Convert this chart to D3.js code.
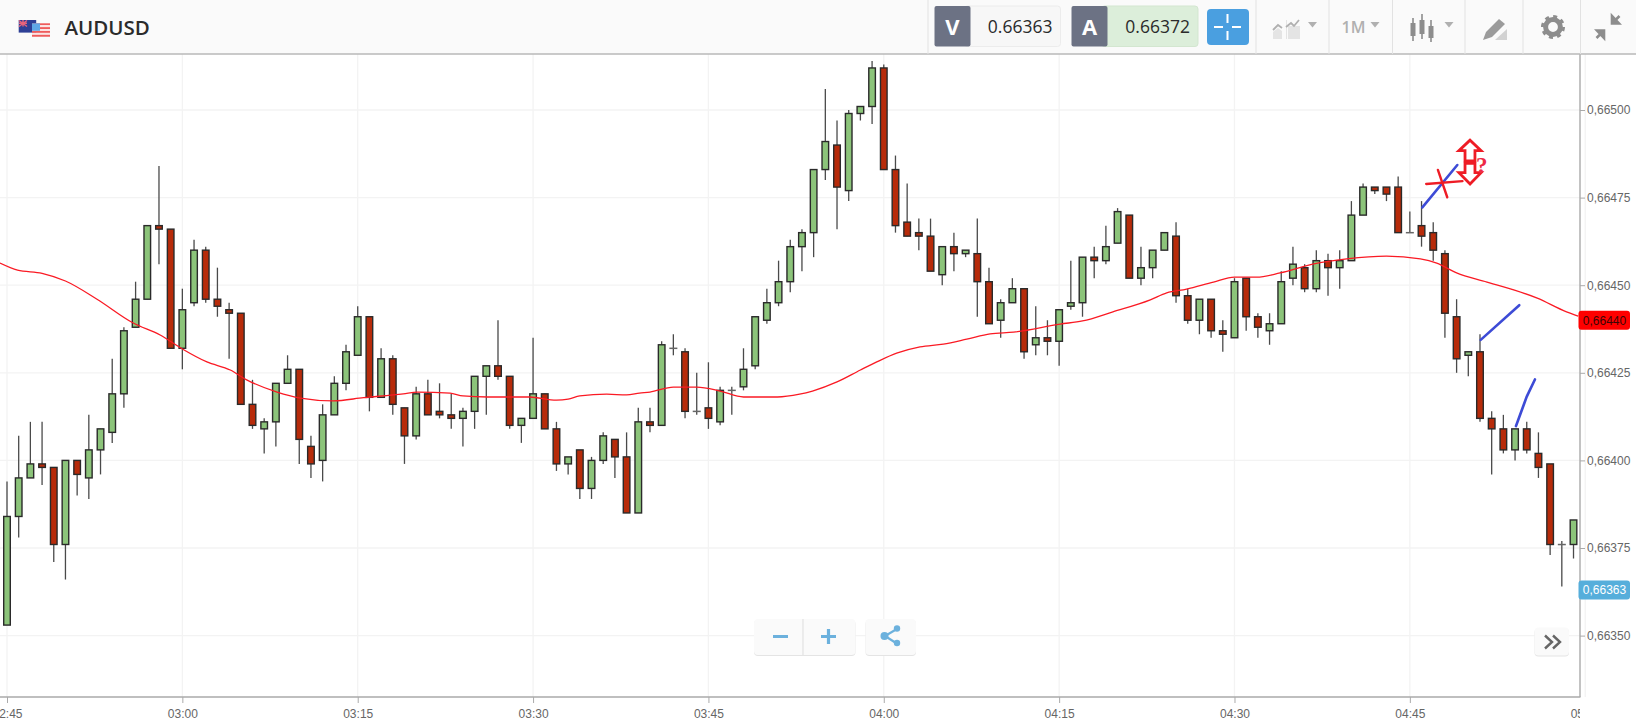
<!DOCTYPE html>
<html>
<head>
<meta charset="utf-8">
<script src="https://d3js.org/d3.v7.min.js"></script>
<style>
  html, body { margin: 0; padding: 0; background: #fff; overflow: hidden; }
  svg { display: block; }
  .axis text { font-family: "Liberation Sans", sans-serif; font-size: 12px; fill: #666; }
  .axis path, .axis line { stroke: #aaa; }
</style>
</head>
<body>
<svg width="1636" height="728"></svg>
<script>
// prices are in units of 0.00001, one minute candles from 02:45
var opens = [66353,66384,66395,66399,66398,66376,66400,66395,66403,66408,66419,66438,66446,66467,66466,
  66432,66445,66460,66446,66443,66442,66416,66409,66411,66422,66426,66404,66400,66413,66422,
  66430,66441,66418,66429,66415,66407,66419,66414,66413,66412,66414,66424,66427,66424,66410,
  66412,66419,66409,66399,66403,66392,66400,66406,66401,66385,66411,66410,66432,66431,66414,
  66415,66411,66420,66421,66427,66440,66445,66451,66461,66465,66483,66490,66477,66499,66501,
  66512,66483,66468,66465,66464,66453,66461,66459,66459,66451,66440,66445,66449,66433,66435,
  66434,66444,66445,66458,66457,66462,66470,66452,66455,66460,66464,66447,66440,66446,66437,
  66435,66452,66441,66437,66439,66452,66455,66449,66457,66455,66457,66470,66478,66478,66478,
  66465,66467,66465,66459,66441,66430,66431,66412,66409,66403,66409,66402,66399,66376,66376];
var highs = [66394,66407,66411,66411,66398,66400,66400,66413,66409,66429,66438,66451,66467,66484,66466,
  66449,66463,66461,66455,66445,66442,66423,66412,66422,66430,66426,66407,66416,66424,66433,
  66444,66441,66432,66430,66415,66421,66423,66422,66419,66415,66424,66427,66440,66424,66412,
  66435,66419,66411,66401,66403,66401,66408,66406,66408,66415,66415,66434,66436,66432,66425,
  66428,66421,66421,66432,66441,66449,66457,66463,66466,66483,66506,66497,66500,66501,66514,
  66513,66487,66479,66469,66469,66461,66465,66460,66469,66455,66446,66452,66449,66444,66440,
  66443,66457,66458,66461,66467,66472,66470,66461,66460,66465,66468,66449,66446,66446,66440,
  66452,66452,66442,66442,66454,66461,66456,66460,66459,66460,66474,66479,66478,66478,66481,
  66471,66474,66468,66460,66446,66431,66436,66414,66413,66409,66411,66408,66399,66377,66383];
var lows = [66353,66378,66395,66393,66371,66366,66390,66389,66396,66405,66415,66438,66446,66456,66432,
  66426,66444,66445,66441,66429,66416,66409,66402,66404,66422,66399,66395,66394,66413,66420,
  66430,66414,66418,66413,66399,66406,66413,66412,66409,66404,66409,66413,66423,66409,66405,
  66412,66409,66397,66396,66389,66389,66399,66395,66385,66385,66408,66410,66430,66412,66413,
  66409,66410,66413,66420,66426,66439,66444,66448,66454,66458,66480,66466,66474,66497,66496,
  66483,66465,66464,66460,66454,66450,66454,66458,66441,66439,66435,66445,66429,66430,66430,
  66427,66443,66441,66452,66456,66462,66452,66450,66452,66460,66445,66439,66436,66435,66431,
  66435,66437,66435,66433,66439,66450,66448,66448,66447,66449,66457,66470,66476,66474,66465,
  66465,66461,66457,66435,66425,66424,66411,66396,66402,66400,66402,66395,66373,66364,66372];
var closes = [66384,66395,66399,66398,66376,66400,66396,66403,66409,66419,66437,66446,66467,66466,66432,
  66443,66460,66446,66444,66442,66416,66410,66411,66422,66426,66406,66399,66413,66422,66431,
  66441,66418,66429,66416,66407,66419,66413,66413,66412,66414,66424,66427,66424,66410,66412,
  66419,66409,66399,66401,66392,66400,66407,66401,66385,66411,66410,66433,66432,66414,66414,
  66412,66420,66420,66426,66441,66445,66451,66461,66465,66483,66491,66478,66499,66501,66512,
  66483,66467,66464,66464,66454,66461,66459,66460,66451,66439,66445,66449,66431,66435,66434,
  66443,66445,66458,66457,66461,66471,66452,66455,66460,66465,66447,66440,66446,66437,66436,
  66451,66441,66438,66439,66451,66456,66449,66457,66455,66457,66470,66478,66477,66476,66465,
  66465,66464,66460,66442,66429,66431,66412,66409,66403,66409,66403,66398,66376,66376,66383];

// moving average, read at these candle positions
var emaPos = [-0.6,0.9,3,5,7.7,10.8,13.1,15,17.1,19.1,20.5,23.1,25.1,27.9,30.5,33.9,35.1,37.9,39,41.1,44.7,47,48,49,51.3,53,54.1,55,57,59,61,63,65.9,67.8,68.9,71,73,74.4,76.1,78.1,80.1,82.1,84.1,86.1,90.1,92,94.6,97.8,99.2,100.9,103.2,105,106.9,108.9,111.7,114.6,118,120.9,122.3,124,126.6,130.9,133.4,134.4];
var emaVal = [66456.3,66454.3,66453.4,66451.2,66446,66439.2,66435.8,66431.8,66428.1,66425.8,66423,66419.5,66417.8,66417,66417.9,66419,66419.5,66419.2,66418.4,66418.1,66418.1,66417.2,66417.5,66418.4,66418.9,66418.7,66419.2,66419.5,66420.9,66420.9,66419.8,66418.1,66418.1,66418.9,66419.8,66422.4,66425.8,66428.1,66430.6,66432.4,66433.2,66434.6,66436.1,66436.6,66438.9,66439.8,66442.4,66445.8,66447.8,66448.9,66450.9,66452.3,66452.3,66453.5,66456,66457.5,66458.3,66457.5,66456.3,66453.5,66450.9,66446.3,66442.4,66441.2];

var priceTicks = [66350,66375,66400,66425,66450,66475,66500];
var timePos = [0,15,30,45,60,75,90,105,120,135];
var timeLabels = ["02:45","03:00","03:15","03:30","03:45","04:00","04:15","04:30","04:45","05:00"];
var symbol = "AUDUSD", bid = "0.66363", ask = "0.66372", emaLast = 66440, bidLast = 66363;

// hand drawn marks on top of the chart, [candle position, price]
var blueStrokes = [
  [[121.07,66472.2],[124.06,66484.3]],
  [[126.06,66434.4],[129.36,66444.3]],
  [[129.08,66409.8],[130,66418.2],[130.7,66423.1]]];
var redStrokes = [
  [[121.4,66478.9],[124.5,66479.7]],
  [[122.4,66482.9],[123.2,66475.1]]];
var arrowUp = [[125.15,66491.4],[124.2,66488.4],[124.72,66488.4],[124.72,66485.5],[125.57,66485.5],[125.57,66488.4],[126.09,66488.4]];
var arrowDown = [[125.15,66478.9],[124.2,66482.1],[124.72,66482.1],[124.72,66484.8],[125.57,66484.8],[125.57,66482.1],[126.09,66482.1]];

var svg = d3.select("svg"),
    width = +svg.attr("width"),
    height = +svg.attr("height");

var axisX = 1580, top0 = 54, axisY = 697;

var x = d3.scaleLinear().domain([0, 135]).range([7, 1585.2]);
var y = d3.scaleLinear().domain([66350, 66500]).range([635.6, 110]);

var defs = svg.append("defs");
defs.append("clipPath").attr("id", "plot").append("rect")
    .attr("x", 0).attr("y", top0).attr("width", axisX).attr("height", axisY - top0);
defs.append("clipPath").attr("id", "bottom").append("rect")
    .attr("x", 0).attr("y", axisY - 1).attr("width", axisX).attr("height", height - axisY + 1);

// grid
var grid = svg.append("g").attr("stroke", "#f3f3f3").attr("stroke-width", 1.3);
grid.selectAll(".gy").data(priceTicks).enter().append("line")
    .attr("x1", 0).attr("x2", axisX)
    .attr("y1", function(d) { return y(d); }).attr("y2", function(d) { return y(d); });
grid.selectAll(".gx").data(timePos).enter().append("line")
    .attr("y1", top0).attr("y2", axisY)
    .attr("x1", function(d) { return x(d); }).attr("x2", function(d) { return x(d); });

var plot = svg.append("g").attr("clip-path", "url(#plot)");

var candles = d3.range(opens.length);

plot.append("g").attr("stroke", "#4a4a4a").attr("stroke-width", 1.3)
  .selectAll("line").data(candles).enter().append("line")
    .attr("x1", function(i) { return x(i); })
    .attr("x2", function(i) { return x(i); })
    .attr("y1", function(i) { return y(highs[i]); })
    .attr("y2", function(i) { return y(lows[i]); });

plot.append("g").attr("stroke-width", 1.4)
  .selectAll("rect").data(candles).enter().append("rect")
    .attr("x", function(i) { return x(i) - 3.3; })
    .attr("width", 6.6)
    .attr("y", function(i) { return y(Math.max(opens[i], closes[i])); })
    .attr("height", function(i) { return Math.max(0.1, Math.abs(y(opens[i]) - y(closes[i]))); })
    .attr("fill", function(i) { return closes[i] >= opens[i] ? "#8cc47a" : "#b72b0a"; })
    .attr("stroke", function(i) { return closes[i] == opens[i] ? "#666" : "#2a2a2a"; });

var emaLine = d3.line()
    .x(function(d) { return x(d[0]); })
    .y(function(d) { return y(d[1]); })
    .curve(d3.curveMonotoneX);

plot.append("path")
    .attr("d", emaLine(emaPos.map(function(p, i) { return [p, emaVal[i]]; })))
    .attr("fill", "none").attr("stroke", "#fa1a24").attr("stroke-width", 1.3);

// axes
var fmtPrice = function(d) { return d3.format(".5f")(d / 100000).replace(".", ","); };

var yAxis = svg.append("g").attr("class", "axis")
    .attr("transform", "translate(" + axisX + ",0)")
    .call(d3.axisRight(y).tickValues(priceTicks).tickSize(5).tickPadding(2).tickFormat(fmtPrice));
yAxis.select(".domain").remove();

var xAxis = svg.append("g").attr("clip-path", "url(#bottom)").append("g").attr("class", "axis")
    .attr("transform", "translate(0," + axisY + ")")
    .call(d3.axisBottom(x).tickValues(timePos).tickSize(6).tickPadding(6)
      .tickFormat(function(d, i) { return timeLabels[i]; }));
xAxis.select(".domain").remove();

svg.append("line").attr("x1", 0).attr("x2", axisX + 0.5).attr("y1", axisY).attr("y2", axisY)
    .attr("stroke", "#aaa").attr("stroke-width", 1.4);
svg.append("line").attr("x1", axisX).attr("x2", axisX).attr("y1", top0).attr("y2", axisY)
    .attr("stroke", "#aaa").attr("stroke-width", 1.4);

// price tags
function priceTag(v, bg, fg) {
  svg.append("rect").attr("x", 1578.5).attr("y", y(v) - 9.5).attr("width", 51.5).attr("height", 19)
      .attr("rx", 3).attr("fill", bg);
  svg.append("text").attr("x", 1604.5).attr("y", y(v) + 4.3).attr("text-anchor", "middle")
      .attr("font-family", "Liberation Sans, sans-serif").attr("font-size", 12)
      .attr("fill", fg).text(fmtPrice(v));
}
priceTag(emaLast, "#ff0000", "#3a0606");
priceTag(bidLast, "#56aedb", "#ffffff");

// hand drawn marks
var pen = d3.line().x(function(d) { return x(d[0]); }).y(function(d) { return y(d[1]); });
var marks = svg.append("g").attr("fill", "none").attr("stroke-linecap", "round");
marks.selectAll(".blue").data(blueStrokes).enter().append("path")
    .attr("d", pen).attr("stroke", "#3d4bd6").attr("stroke-width", 2.6);
marks.selectAll(".red").data(redStrokes).enter().append("path")
    .attr("d", pen).attr("stroke", "#ee1c25").attr("stroke-width", 2.4);
marks.selectAll(".arrow").data([arrowUp, arrowDown]).enter().append("path")
    .attr("d", function(d) { return pen(d) + "Z"; })
    .attr("stroke", "#ee1c25").attr("stroke-width", 2.8).attr("stroke-linejoin", "miter");
svg.append("text").attr("x", x(126.15)).attr("y", y(66482)).attr("text-anchor", "middle")
    .attr("font-family", "Liberation Serif, serif").attr("font-weight", "bold").attr("font-size", 23)
    .attr("fill", "#ee2a45").text("?");

// zoom + share buttons
var btn = svg.append("g");
function box(xp, yp, w, h) {
  btn.append("rect").attr("x", xp).attr("y", yp + 1).attr("width", w).attr("height", h)
      .attr("rx", 4).attr("fill", "#e4e4e4");
  return btn.append("rect").attr("x", xp).attr("y", yp).attr("width", w).attr("height", h)
      .attr("rx", 4).attr("fill", "#fafafa");
}
box(754, 619, 101.5, 36);
btn.append("line").attr("x1", 803).attr("x2", 803).attr("y1", 619).attr("y2", 655).attr("stroke", "#ddd");
btn.append("path").attr("d", "M773 636.5h15M821 636.5h15M828.5 629v15")
    .attr("stroke", "#6cb1dd").attr("stroke-width", 3.2).attr("fill", "none");
box(865.5, 619, 50.5, 36);
btn.append("path").attr("d", "M896 629.5L885 636L896 643").attr("stroke", "#6cb1dd").attr("stroke-width", 2.2).attr("fill", "none");
btn.selectAll(".dot").data([[897,628.5,3.2],[884.5,636,4],[897,643,3.2]]).enter().append("circle")
    .attr("cx", function(d) { return d[0]; }).attr("cy", function(d) { return d[1]; })
    .attr("r", function(d) { return d[2]; }).attr("fill", "#6cb1dd");
box(1534.5, 627.5, 34.5, 28);
btn.append("path").attr("d", "M1545 635.5l7 6.5l-7 6.5M1553 635.5l7 6.5l-7 6.5")
    .attr("stroke", "#666").attr("stroke-width", 2.4).attr("fill", "none");

// header
var head = svg.append("g");
head.append("rect").attr("width", width).attr("height", top0).attr("fill", "#fafafa");
head.append("line").attr("x1", 0).attr("x2", width).attr("y1", top0).attr("y2", top0)
    .attr("stroke", "#b9b9b9").attr("stroke-width", 1.4);

// flags
head.append("rect").attr("x", 18.7).attr("y", 20).attr("width", 17.5).attr("height", 12.6).attr("fill", "#2e4096");
head.append("path").attr("d", "M19 20.5l8 6M27 20.5l-8 6M23 20v6.5M19 23.3h8").attr("stroke", "#e8637a").attr("stroke-width", 1.4);
var stripes = d3.range(7);
head.selectAll(".st").data(stripes).enter().append("rect")
    .attr("x", 32).attr("width", 18)
    .attr("y", function(d) { return 23.3 + d * 1.92; }).attr("height", 1.92)
    .attr("fill", function(d) { return d % 2 ? "#fbe3e3" : "#ee5b5b"; });
head.append("rect").attr("x", 32).attr("y", 23.3).attr("width", 8).attr("height", 7.5).attr("fill", "#5fa8e6");

head.append("text").attr("x", 64.5).attr("y", 35).attr("font-family", "Open Sans, sans-serif")
    .attr("font-weight", 600).attr("font-size", 20.5).attr("fill", "#2b2b2b").text(symbol);

// quote boxes
function quote(xs, letter, value, bg, border, xEnd) {
  head.append("rect").attr("x", xs + 30).attr("y", 6).attr("width", xEnd - xs - 30).attr("height", 40.5)
      .attr("rx", 3).attr("fill", bg).attr("stroke", border);
  head.append("rect").attr("x", xs).attr("y", 6).attr("width", 36).attr("height", 40.5)
      .attr("rx", 2).attr("fill", "#6c7284");
  head.append("text").attr("x", xs + 18).attr("y", 34.5).attr("text-anchor", "middle")
      .attr("font-family", "Open Sans, sans-serif").attr("font-weight", 700).attr("font-size", 22)
      .attr("fill", "#fff").text(letter);
  head.append("text").attr("x", xEnd - 8).attr("y", 33).attr("text-anchor", "end")
      .attr("font-family", "Open Sans, sans-serif").attr("font-size", 17.5)
      .attr("fill", "#2b2b2b").text(value);
}
quote(934.5, "V", bid, "#f7f7f7", "#ececec", 1060.5);
quote(1071.5, "A", ask, "#dceeda", "#d3e6d0", 1198);

// crosshair button
head.append("rect").attr("x", 1207).attr("y", 9).attr("width", 42).attr("height", 36).attr("rx", 4).attr("fill", "#4a9fe0");
head.append("path").attr("d", "M1214 27h9M1232 27h9M1227.5 14v9M1227.5 31v9").attr("stroke", "#fff").attr("stroke-width", 2);

// toolbar separators
head.selectAll(".sep").data([928, 1256, 1329, 1392.5, 1465, 1523, 1580.5]).enter().append("line")
    .attr("x1", function(d) { return d; }).attr("x2", function(d) { return d; })
    .attr("y1", 0).attr("y2", top0).attr("stroke", "#e2e2e2");

// toolbar icons
var iconGrey = "#b0b0b0";
head.append("path").attr("d", "M1273 39v-7l5-4l4 3v8zM1286 39V20h1v19zM1288 39V26h12v13z").attr("fill", "#e4e4e4");
head.append("path").attr("d", "M1273 30l5-5l4 3M1286 27l5-4l3 3l5-6").attr("fill", "none").attr("stroke", iconGrey).attr("stroke-width", 1.8);
head.selectAll(".caret").data([1312.5, 1375, 1449]).enter().append("path")
    .attr("d", function(d) { return "M" + (d - 4.5) + " 22h9l-4.5 5.5z"; }).attr("fill", iconGrey);
head.append("text").attr("x", 1353.5).attr("y", 33).attr("text-anchor", "middle")
    .attr("font-family", "Open Sans, sans-serif").attr("font-weight", 600).attr("font-size", 16)
    .attr("fill", iconGrey).text("1M");
head.append("path").attr("d", "M1413 18v23M1422 14v25M1431 20v22").attr("stroke", "#8d8d8d").attr("stroke-width", 1.6);
head.append("path").attr("d", "M1410.5 23h5v13h-5zM1419.5 20h5v14h-5zM1428.5 26h5v12h-5z").attr("fill", "#8d8d8d");
head.append("path").attr("d", "M1483 40l3-8l13-13l6 5l-13 13z").attr("fill", "#9b9b9b");
head.append("path").attr("d", "M1495 40l12-11v11z").attr("fill", "#d2d2d2");
head.append("circle").attr("cx", 1553).attr("cy", 27).attr("r", 7.4).attr("fill", "none").attr("stroke", "#8d8d8d").attr("stroke-width", 5);
head.append("circle").attr("cx", 1553).attr("cy", 27).attr("r", 10.6).attr("fill", "none").attr("stroke", "#8d8d8d").attr("stroke-width", 2.8).attr("stroke-dasharray", "4 4.3");
head.append("path").attr("d", "M1612 16v7.5h7zM1612 23.5l7.5-7.5M1604 38v-7.5h-7zM1604 30.5l-7.5 7.5")
    .attr("fill", "#8d8d8d").attr("stroke", "#8d8d8d").attr("stroke-width", 2.6);
</script>
</body>
</html>
